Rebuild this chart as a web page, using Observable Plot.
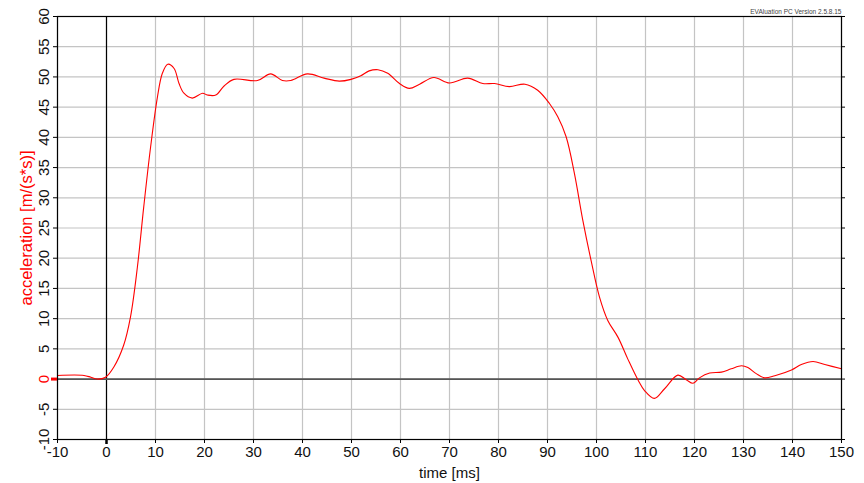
<!DOCTYPE html>
<html>
<head>
<meta charset="utf-8">
<script src="https://cdn.jsdelivr.net/npm/d3@7"></script>
<script src="https://cdn.jsdelivr.net/npm/@observablehq/plot@0.6"></script>
<style>
  html, body { margin: 0; padding: 0; background: #fff; }
</style>
</head>
<body>
<div id="chart"></div>
<script>
// time in ms
const times = [-10, -4.6, -3.2, -1.9, -0.2, 1.5, 3.5, 4.9, 6.3, 7.6, 9.0, 10.4, 11.4, 12.5, 13.8, 14.8, 15.8, 17.5, 19.6, 20.6, 22.3, 24.0, 26.0, 30.8, 33.5, 35.9, 37.6, 41.0, 44.4, 47.5, 49.9, 51.9, 53.6, 55.4, 57.4, 59.8, 61.8, 63.9, 66.8, 70.0, 73.7, 76.8, 79.2, 82.2, 85.4, 88.0, 90.4, 92.1, 93.8, 95.5, 97.2, 98.9, 100.6, 102.3, 104.4, 106.4, 108.5, 109.8, 111.8, 113.9, 116.6, 118.3, 119.7, 121.0, 123.1, 125.5, 127.5, 129.6, 130.9, 132.6, 134.3, 136.4, 139.8, 141.8, 144.2, 146.6, 150];
// acceleration in m/(s*s)
const accel = [0.6, 0.6, 0.3, 0.0, 0.3, 2.0, 5.6, 10.3, 18.5, 28.5, 38.4, 46.7, 50.6, 52.1, 51.4, 48.9, 47.3, 46.5, 47.3, 47.0, 47.0, 48.5, 49.6, 49.4, 50.5, 49.4, 49.4, 50.5, 49.8, 49.3, 49.6, 50.2, 51.0, 51.2, 50.6, 48.9, 48.1, 48.8, 49.9, 49.0, 49.8, 48.9, 48.9, 48.4, 48.8, 47.8, 45.6, 43.4, 40.1, 34.0, 26.3, 19.6, 13.6, 9.7, 6.9, 3.3, -0.2, -1.9, -3.2, -1.6, 0.65, -0.1, -0.7, 0.2, 1.0, 1.15, 1.7, 2.2, 1.9, 0.9, 0.2, 0.55, 1.5, 2.4, 2.9, 2.4, 1.7];

const xTicks = [-10, 0, 10, 20, 30, 40, 50, 60, 70, 80, 90, 100, 110, 120, 130, 140, 150];
const yTicks = [-10, -5, 0, 5, 10, 15, 20, 25, 30, 35, 40, 45, 50, 55, 60];

const xLabel = "time [ms]";
const yLabel = "acceleration [m/(s*s)]";
const versionText = "EVAluation PC Version 2.5.8.15";

const data = times.map((t, i) => ({t, a: accel[i]}));

const chart = Plot.plot({
  width: 864,
  height: 483,
  marginLeft: 57,
  marginRight: 23,
  marginTop: 16,
  marginBottom: 44,
  style: {fontFamily: "'Liberation Sans', Arial, sans-serif", background: "#fff", overflow: "visible"},
  x: {domain: [-10, 150]},
  y: {domain: [-10, 60]},
  marks: [
    Plot.gridX(xTicks, {stroke: "#c4c4c4", strokeOpacity: 1, strokeWidth: 1.2}),
    Plot.gridY(yTicks, {stroke: "#c4c4c4", strokeOpacity: 1, strokeWidth: 1.2}),
    Plot.ruleX([0], {stroke: "#000", strokeWidth: 1.2}),
    Plot.ruleY([0], {stroke: "#555", strokeWidth: 1.8}),
    Plot.line(data, {x: "t", y: "a", stroke: "red", strokeWidth: 1.1, curve: "catmull-rom"}),
    Plot.frame({stroke: "#000", strokeWidth: 1.2}),
    // x axis
    Plot.axisX({ticks: xTicks, tickSize: 4, tickPadding: 3, fontSize: 15, fill: "#111", tickFormat: d => String(d), label: null}),
    Plot.axisX({ticks: [0], tickSize: 5, strokeWidth: 2.5, tickFormat: () => "", label: null}),
    // y axis ticks
    Plot.axisY({ticks: yTicks, tickSize: 4, tickFormat: () => "", label: null}),
    Plot.axisY({anchor: "right", ticks: yTicks, tickSize: 3, tickFormat: () => "", label: null}),
    Plot.axisY({ticks: [0], tickSize: 6, stroke: "red", strokeWidth: 3, tickFormat: () => "", label: null}),
    // y tick labels (rotated)
    Plot.text(yTicks, {
      y: d => d, frameAnchor: "left", text: d => String(d),
      rotate: -90, textAnchor: "middle", lineAnchor: "bottom",
      dx: -9, fontSize: 15, fill: d => d === 0 ? "red" : "#111"
    }),
    // axis titles
    Plot.text([xLabel], {frameAnchor: "bottom", text: d => d, dy: 34, fontSize: 15, fill: "#111", textAnchor: "middle", lineAnchor: "middle"}),
    Plot.text([yLabel], {frameAnchor: "left", text: d => d, rotate: -90, dx: -31, fontSize: 16.5, fill: "red", textAnchor: "middle", lineAnchor: "middle"}),
    Plot.text([versionText], {frameAnchor: "top-right", text: d => d, textAnchor: "end", lineAnchor: "bottom", dy: -3, fontSize: 6.5, fill: "#444"})
  ]
});

document.getElementById("chart").appendChild(chart);
</script>
</body>
</html>
